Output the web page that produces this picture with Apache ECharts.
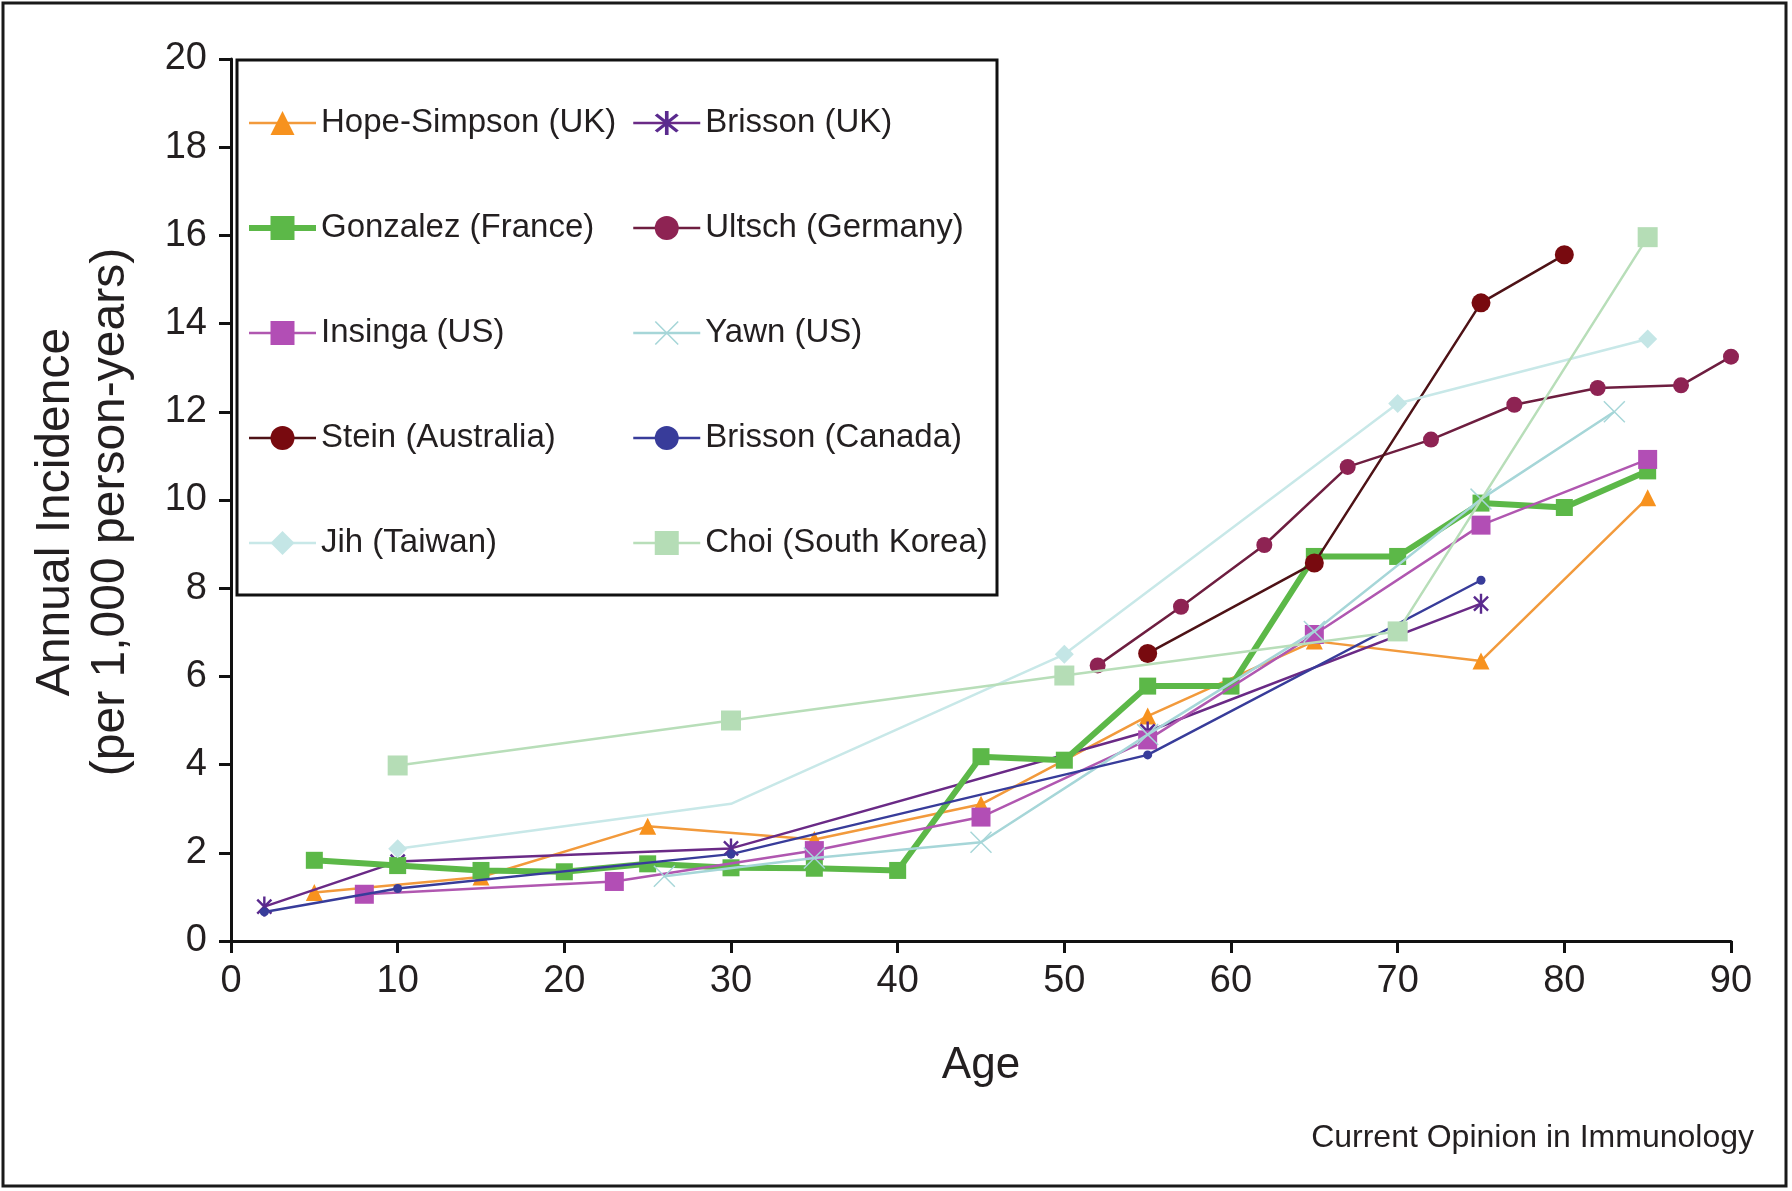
<!DOCTYPE html>
<html>
<head>
<meta charset="utf-8">
<title>Annual incidence of herpes zoster by age</title>
<script src="https://cdn.jsdelivr.net/npm/echarts@6/dist/echarts.min.js"></script>
<style>
  html, body { margin: 0; padding: 0; background: #ffffff; }
  #chart { width: 1792px; height: 1191px; }
</style>
</head>
<body>
<div id="chart"></div>
<script>
// Annual incidence (per 1,000 person-years) by age, one [age, incidence] list per study
const hopeSimpsonUK   = [[5, 1.1], [15, 1.45], [25, 2.6], [35, 2.3], [45, 3.1], [55, 5.1], [65, 6.8], [75, 6.35], [85, 10.05]];
const brissonUK       = [[2, 0.78], [10, 1.8], [30, 2.1], [55, 4.75], [75, 7.65]];
const gonzalezFrance  = [[5, 1.83], [10, 1.71], [15, 1.6], [20, 1.57], [25, 1.75], [30, 1.66], [35, 1.65], [40, 1.6],
                         [45, 4.18], [50, 4.1], [55, 5.78], [60, 5.78], [65, 8.72], [70, 8.72], [75, 9.93], [80, 9.83], [85, 10.66]];
const ultschGermany   = [[52, 6.25], [57, 7.58], [62, 8.98], [67, 10.75], [72, 11.37], [77, 12.16], [82, 12.54], [87, 12.6], [90, 13.25]];
const insingaUS       = [[8, 1.06], [23, 1.35], [35, 2.05], [45, 2.81], [55, 4.56], [65, 6.95], [75, 9.43], [85, 10.92]];
const yawnUS          = [[26, 1.47], [35, 1.88], [45, 2.24], [55, 4.68], [65, 7.02], [75, 10.02], [83, 12.0]];
const steinAustralia  = [[55, 6.52], [65, 8.57], [75, 14.47], [80, 15.56]];
const brissonCanada   = [[2, 0.66], [10, 1.19], [30, 1.97], [55, 4.22], [75, 8.18]];
const jihTaiwan       = [[10, 2.09], [30, 3.11], [50, 6.5], [70, 12.19], [85, 13.65]];
const choiSouthKorea  = [[10, 3.98], [30, 5.0], [50, 6.02], [70, 7.02], [85, 15.96]];

// Jih's 30-year point is a bend in the line only, drawn without a marker
const jihUnmarkedAges = [30];

const legendLeftColumn  = ['Hope-Simpson (UK)', 'Gonzalez (France)', 'Insinga (US)', 'Stein (Australia)', 'Jih (Taiwan)'];
const legendRightColumn = ['Brisson (UK)', 'Ultsch (Germany)', 'Yawn (US)', 'Brisson (Canada)', 'Choi (South Korea)'];

const FONT = '"Liberation Sans", Arial, Helvetica, sans-serif';
const INK = '#231f20';

// Six-armed asterisk and a thin cross, as filled outlines
const ASTERISK = 'path://M-1.2,-10L1.2,-10L1.2,10L-1.2,10Z' +
                 'M6.22,7.92L-7.92,-6.22L-6.22,-7.92L7.92,6.22Z' +
                 'M-6.22,7.92L-7.92,6.22L6.22,-7.92L7.92,-6.22Z';
const CROSS = 'path://M6.8,7.5L-7.5,-6.8L-6.8,-7.5L7.5,6.8Z' +
              'M-6.8,7.5L-7.5,6.8L6.8,-7.5L7.5,-6.8Z';

function lineSeries(name, data, color, lineColor, width, symbol, size, z) {
  return {
    name: name,
    type: 'line',
    data: data,
    symbol: symbol,
    symbolSize: size,
    symbolKeepAspect: true,
    showSymbol: true,
    z: z,
    itemStyle: { color: color },
    lineStyle: { color: lineColor, width: width },
    emphasis: { disabled: true },
    animation: false
  };
}

const jihData = jihTaiwan.map(function (p) {
  return jihUnmarkedAges.indexOf(p[0]) >= 0 ? { value: p, symbol: 'none' } : p;
});

const chart = echarts.init(document.getElementById('chart'), null, { renderer: 'canvas' });

const legendBase = {
  orient: 'vertical',
  top: 105,
  itemWidth: 67,
  itemHeight: 30,
  itemGap: 69,
  padding: 0,
  selectedMode: false,
  lineStyle: { width: 'inherit' },
  textStyle: { fontSize: 33, fontFamily: FONT, color: INK, lineHeight: 36 }
};

const option = {
  backgroundColor: '#ffffff',
  animation: false,
  textStyle: { fontFamily: FONT },
  grid: { left: 231, right: 61, top: 59, bottom: 250, containLabel: false },
  xAxis: {
    type: 'value',
    min: 0, max: 90, interval: 10,
    name: 'Age',
    nameLocation: 'middle',
    nameGap: 103,
    nameTextStyle: { fontSize: 44, fontFamily: FONT, color: INK },
    axisLine: { show: true, lineStyle: { color: '#111111', width: 3 } },
    axisTick: { show: true, length: 12, lineStyle: { color: '#111111', width: 3 } },
    axisLabel: { margin: 22, fontSize: 38, fontFamily: FONT, color: INK },
    splitLine: { show: false }
  },
  yAxis: {
    type: 'value',
    min: 0, max: 20, interval: 2,
    axisLine: { show: true, lineStyle: { color: '#111111', width: 3 } },
    axisTick: { show: true, length: 12, lineStyle: { color: '#111111', width: 3 } },
    axisLabel: { margin: 24, fontSize: 38, fontFamily: FONT, color: INK },
    splitLine: { show: false }
  },
  legend: [
    Object.assign({}, legendBase, { left: 246, data: legendLeftColumn }),
    Object.assign({}, legendBase, { left: 632, data: legendRightColumn })
  ],
  graphic: [
    {
      type: 'rect', z: 100, silent: true,
      shape: { x: 3, y: 3, width: 1783, height: 1183 },
      style: { fill: 'transparent', stroke: '#1a1a1a', lineWidth: 3 }
    },
    {
      type: 'rect', z: 5, silent: true,
      shape: { x: 237, y: 60, width: 760, height: 535 },
      style: { fill: 'transparent', stroke: '#111111', lineWidth: 3 }
    },
    {
      type: 'text', silent: true,
      x: 83, y: 512, rotation: Math.PI / 2,
      style: {
        text: 'Annual Incidence\n(per 1,000 person-years)',
        font: '48px ' + FONT,
        fill: INK,
        align: 'center',
        verticalAlign: 'middle',
        lineHeight: 55
      }
    },
    {
      type: 'text', silent: true,
      x: 1754, y: 1138,
      style: {
        text: 'Current Opinion in Immunology',
        font: '32px ' + FONT,
        fill: INK,
        align: 'right',
        verticalAlign: 'middle'
      }
    }
  ],
  series: [
    lineSeries('Hope-Simpson (UK)', hopeSimpsonUK, '#F7921E', '#F29A3C', 2.5, 'triangle', 17, 2),
    lineSeries('Brisson (UK)', brissonUK, '#5A2A8E', '#6A2A86', 2.5, ASTERISK, 20, 3),
    lineSeries('Gonzalez (France)', gonzalezFrance, '#5CB848', '#5CB848', 6, 'rect', 17, 4),
    lineSeries('Ultsch (Germany)', ultschGermany, '#8E2353', '#6E1E40', 2.5, 'circle', 16, 5),
    lineSeries('Insinga (US)', insingaUS, '#B24EB5', '#B057B0', 2.5, 'rect', 19, 6),
    lineSeries('Yawn (US)', yawnUS, '#A6D6D8', '#A6D6D8', 2.5, CROSS, 22, 7),
    lineSeries('Stein (Australia)', steinAustralia, '#780A0F', '#4E1216', 2.5, 'circle', 19, 8),
    lineSeries('Brisson (Canada)', brissonCanada, '#383C9A', '#383C9A', 2.5, 'circle', 9, 9),
    lineSeries('Jih (Taiwan)', jihData, '#C4E6E6', '#C8E8E8', 2.5, 'diamond', 19, 10),
    lineSeries('Choi (South Korea)', choiSouthKorea, '#B5DDB6', '#B8DEB9', 2.5, 'rect', 20, 11)
  ]
};

chart.setOption(option);
</script>
</body>
</html>
